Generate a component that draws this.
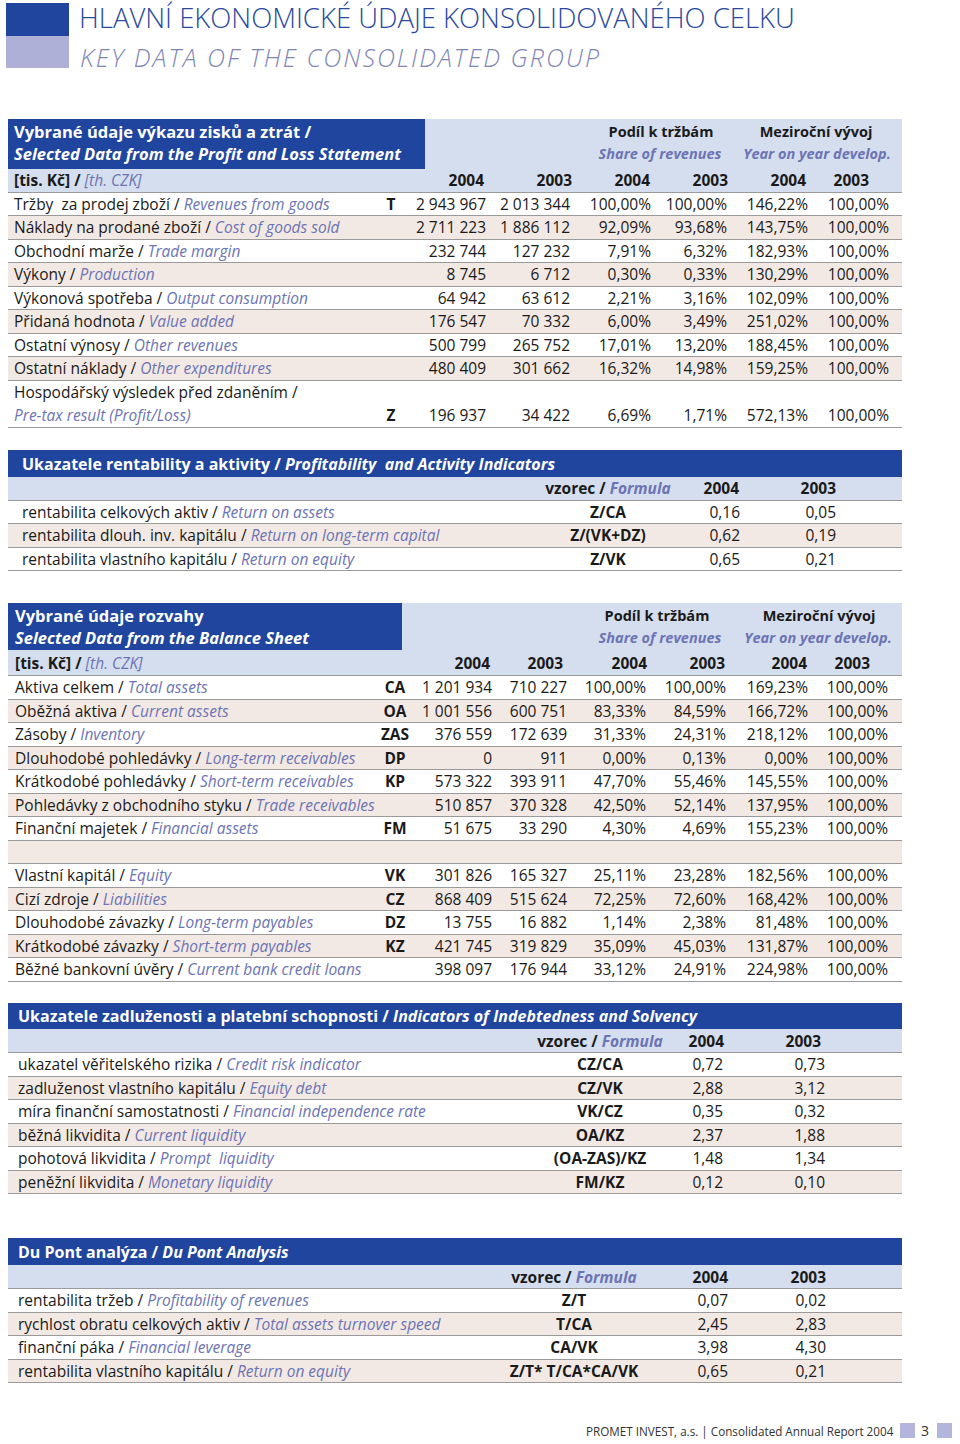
import React from 'react';

// page colours
const DARK = '#1f459e';
const LIGHT = '#d5deee';
const PINK = '#f3e9e4';
const LINE = '#9a9a9a';
const INK = '#1a1a1a';
const EN = '#6c74b4';
const FONT = '"Open Sans", sans-serif';

// --- Profit and loss ---
const plCz = ['Tržby  za prodej zboží', 'Náklady na prodané zboží', 'Obchodní marže', 'Výkony', 'Výkonová spotřeba', 'Přidaná hodnota', 'Ostatní výnosy', 'Ostatní náklady', 'Hospodářský výsledek před zdaněním'];
const plEn = ['Revenues from goods', 'Cost of goods sold', 'Trade margin', 'Production', 'Output consumption', 'Value added', 'Other revenues', 'Other expenditures', 'Pre-tax result (Profit/Loss)'];
const plCodes = ['T', '', '', '', '', '', '', '', 'Z'];
const pl2004 = [2943967, 2711223, 232744, 8745, 64942, 176547, 500799, 480409, 196937];
const pl2003 = [2013344, 1886112, 127232, 6712, 63612, 70332, 265752, 301662, 34422];
const plShare2004 = [100.0, 92.09, 7.91, 0.3, 2.21, 6.0, 17.01, 16.32, 6.69];
const plShare2003 = [100.0, 93.68, 6.32, 0.33, 3.16, 3.49, 13.2, 14.98, 1.71];
const plYoy2004 = [146.22, 143.75, 182.93, 130.29, 102.09, 251.02, 188.45, 159.25, 572.13];
const plYoy2003 = [100, 100, 100, 100, 100, 100, 100, 100, 100];

// --- Balance sheet ---
const bsCz = ['Aktiva celkem', 'Oběžná aktiva', 'Zásoby', 'Dlouhodobé pohledávky', 'Krátkodobé pohledávky', 'Pohledávky z obchodního styku', 'Finanční majetek', '', 'Vlastní kapitál', 'Cizí zdroje', 'Dlouhodobé závazky', 'Krátkodobé závazky', 'Běžné bankovní úvěry'];
const bsEn = ['Total assets', 'Current assets', 'Inventory', 'Long-term receivables', 'Short-term receivables', 'Trade receivables', 'Financial assets', '', 'Equity', 'Liabilities', 'Long-term payables', 'Short-term payables', 'Current bank credit loans'];
const bsCodes = ['CA', 'OA', 'ZAS', 'DP', 'KP', '', 'FM', '', 'VK', 'CZ', 'DZ', 'KZ', ''];
const bs2004 = [1201934, 1001556, 376559, 0, 573322, 510857, 51675, null, 301826, 868409, 13755, 421745, 398097];
const bs2003 = [710227, 600751, 172639, 911, 393911, 370328, 33290, null, 165327, 515624, 16882, 319829, 176944];
const bsShare2004 = [100.0, 83.33, 31.33, 0.0, 47.7, 42.5, 4.3, null, 25.11, 72.25, 1.14, 35.09, 33.12];
const bsShare2003 = [100.0, 84.59, 24.31, 0.13, 55.46, 52.14, 4.69, null, 23.28, 72.6, 2.38, 45.03, 24.91];
const bsYoy2004 = [169.23, 166.72, 218.12, 0.0, 145.55, 137.95, 155.23, null, 182.56, 168.42, 81.48, 131.87, 224.98];
const bsYoy2003 = [100, 100, 100, 100, 100, 100, 100, null, 100, 100, 100, 100, 100];

// --- Indicators ---
const profCz = ['rentabilita celkových aktiv', 'rentabilita dlouh. inv. kapitálu', 'rentabilita vlastního kapitálu'];
const profEn = ['Return on assets', 'Return on long-term capital', 'Return on equity'];
const profFormula = ['Z/CA', 'Z/(VK+DZ)', 'Z/VK'];
const prof2004 = [0.16, 0.62, 0.65];
const prof2003 = [0.05, 0.19, 0.21];

const debtCz = ['ukazatel věřitelského rizika', 'zadluženost vlastního kapitálu', 'míra finanční samostatnosti', 'běžná likvidita', 'pohotová likvidita', 'peněžní likvidita'];
const debtEn = ['Credit risk indicator', 'Equity debt', 'Financial independence rate', 'Current liquidity', 'Prompt  liquidity', 'Monetary liquidity'];
const debtFormula = ['CZ/CA', 'CZ/VK', 'VK/CZ', 'OA/KZ', '(OA-ZAS)/KZ', 'FM/KZ'];
const debt2004 = [0.72, 2.88, 0.35, 2.37, 1.48, 0.12];
const debt2003 = [0.73, 3.12, 0.32, 1.88, 1.34, 0.1];

const dpCz = ['rentabilita tržeb', 'rychlost obratu celkových aktiv', 'finanční páka', 'rentabilita vlastního kapitálu'];
const dpEn = ['Profitability of revenues', 'Total assets turnover speed', 'Financial leverage', 'Return on equity'];
const dpFormula = ['Z/T', 'T/CA', 'CA/VK', 'Z/T* T/CA*CA/VK'];
const dp2004 = [0.07, 2.45, 3.98, 0.65];
const dp2003 = [0.02, 2.83, 4.3, 0.21];

const years = ['2004', '2003', '2004', '2003', '2004', '2003'];

const fmtInt = (v: number | null) => (v == null ? '' : String(v).replace(/\B(?=(\d{3})+(?!\d))/g, ' '));
const fmtPct = (v: number | null) => (v == null ? '' : v.toFixed(2).replace('.', ',') + '%');
const fmtDec = (v: number) => v.toFixed(2).replace('.', ',');

const ROW = 23.5;
const PAGE_RIGHT = 902;

// absolutely placed text; x is a right edge, left edge or centre on the page
const at = (x: number, align: 'left' | 'right' | 'center', extra: React.CSSProperties = {}): React.CSSProperties => {
  const base: React.CSSProperties = { position: 'absolute', top: 0, bottom: 0, display: 'flex', alignItems: 'center', whiteSpace: 'pre' };
  if (align === 'left') return { ...base, left: x - 8, ...extra };
  if (align === 'right') return { ...base, right: PAGE_RIGHT - x, ...extra };
  return { ...base, left: x - 8 - 200, width: 400, justifyContent: 'center', ...extra };
};

const Band = ({ top, height, bg, line = true, left = 8, children }: any) => (
  <div
    style={{
      position: 'absolute', left, width: PAGE_RIGHT - left, top, height, background: bg,
      borderBottom: line ? `1.5px solid ${LINE}` : 'none', boxSizing: 'border-box',
    }}
  >
    {children}
  </div>
);

const Label = ({ x, cz, en }: { x: number; cz: string; en: string }) => (
  <span style={at(x, 'left')}>
    {cz}
    {en ? ' / ' : ''}
    <span style={{ color: EN, fontStyle: 'italic' }}>{en}</span>
  </span>
);

const TwoLineHeader = ({ top, height, darkWidth, x, cz, en, shareC, yoyC, shareC2, yoyC2, y1, y2 }: any) => (
  <>
    <div style={{ position: 'absolute', left: 8, top, width: darkWidth - 8, height, background: DARK, color: '#fff', fontWeight: 700, fontSize: 16.5 }}>
      <div style={{ position: 'absolute', left: x - 8, top: y1 - top - 12, lineHeight: '24px' }}>{cz}</div>
      <div style={{ position: 'absolute', left: x - 8, top: y2 - top - 12, lineHeight: '24px', fontStyle: 'italic' }}>{en}</div>
    </div>
    <div style={{ position: 'absolute', left: darkWidth, top, width: PAGE_RIGHT - darkWidth, height, background: LIGHT, fontWeight: 700, fontSize: 14.5 }}>
      {[
        ['Podíl k tržbám', shareC, y1, false],
        ['Share of revenues', shareC2, y2, true],
        ['Meziroční vývoj', yoyC, y1, false],
        ['Year on year develop.', yoyC2, y2, true],
      ].map(([t, c, y, it]: any, i) => (
        <div
          key={i}
          style={{
            position: 'absolute', left: c - darkWidth - 150, width: 300, textAlign: 'center', top: y - top - 11, lineHeight: '22px',
            color: it ? EN : INK, fontStyle: it ? 'italic' : 'normal',
          }}
        >
          {t}
        </div>
      ))}
    </div>
  </>
);

const UnitsRow = ({ top, height, x, headerRights }: any) => (
  <Band top={top} height={height} bg={LIGHT}>
    <span style={at(x, 'left', { fontWeight: 700 })}>
      [tis. Kč] / <span style={{ color: EN, fontStyle: 'italic', fontWeight: 400 }}>[th. CZK]</span>
    </span>
    {years.map((y, i) => (
      <span key={i} style={at(headerRights[i], 'right', { fontWeight: 700 })}>{y}</span>
    ))}
  </Band>
);

const FinTable = ({ rowsTop, x, codeC, valueRights, cz, en, codes, cols, twoLineLast }: any) => (
  <>
    {cz.map((c: string, i: number) => {
      const two = twoLineLast && i === cz.length - 1;
      const h = two ? ROW * 2 : ROW;
      const rowTop = rowsTop + i * ROW;
      const vals = cols.map((col: any) => col.fmt(col.data[i]));
      return (
        <Band key={i} top={rowTop} height={h} bg={i % 2 === 1 ? PINK : '#fff'}>
          {two ? (
            <>
              <div style={{ position: 'absolute', left: x - 8, top: 0, height: ROW, display: 'flex', alignItems: 'center' }}>{c} /</div>
              <div style={{ position: 'absolute', left: x - 8, top: ROW, height: ROW - 1.5, display: 'flex', alignItems: 'center', color: EN, fontStyle: 'italic' }}>{en[i]}</div>
            </>
          ) : (
            <Label x={x} cz={c} en={en[i]} />
          )}
          <div style={{ position: 'absolute', left: 0, right: 0, top: two ? ROW : 0, bottom: 0 }}>
            <span style={at(codeC, 'center', { fontWeight: 700 })}>{codes[i]}</span>
            {vals.map((v: string, j: number) => (
              <span key={j} style={at(valueRights[j], 'right')}>{v}</span>
            ))}
          </div>
        </Band>
      );
    })}
  </>
);

const IndicatorTable = ({ top, headH, subH, x, title, titleEn, formulaC, r2004, r2003, h2004, h2003, cz, en, formula, v2004, v2003 }: any) => (
  <>
    <div style={{ position: 'absolute', left: 8, top, width: PAGE_RIGHT - 8, height: headH, background: DARK, color: '#fff', fontWeight: 700, fontSize: 16 }}>
      <span style={{ position: 'absolute', left: x - 8, top: 0, bottom: 0, display: 'flex', alignItems: 'center', whiteSpace: 'pre' }}>
        {title} / <i>{titleEn}</i>
      </span>
    </div>
    <Band top={top + headH} height={subH} bg={LIGHT}>
      <span style={at(formulaC, 'center', { fontWeight: 700 })}>
        vzorec / <span style={{ color: EN, fontStyle: 'italic' }}>Formula</span>
      </span>
      <span style={at(h2004, 'right', { fontWeight: 700 })}>2004</span>
      <span style={at(h2003, 'right', { fontWeight: 700 })}>2003</span>
    </Band>
    {cz.map((c: string, i: number) => (
      <Band key={i} top={top + headH + subH + i * ROW} height={ROW} bg={i % 2 === 1 ? PINK : '#fff'}>
        <Label x={x} cz={c} en={en[i]} />
        <span style={at(formulaC, 'center', { fontWeight: 700 })}>{formula[i]}</span>
        <span style={at(r2004, 'right')}>{fmtDec(v2004[i])}</span>
        <span style={at(r2003, 'right')}>{fmtDec(v2003[i])}</span>
      </Band>
    ))}
  </>
);

export default function App() {
  const plCols = [
    { data: pl2004, fmt: fmtInt },
    { data: pl2003, fmt: fmtInt },
    { data: plShare2004, fmt: fmtPct },
    { data: plShare2003, fmt: fmtPct },
    { data: plYoy2004, fmt: fmtPct },
    { data: plYoy2003, fmt: fmtPct },
  ];
  const bsCols = [
    { data: bs2004, fmt: fmtInt },
    { data: bs2003, fmt: fmtInt },
    { data: bsShare2004, fmt: fmtPct },
    { data: bsShare2003, fmt: fmtPct },
    { data: bsYoy2004, fmt: fmtPct },
    { data: bsYoy2003, fmt: fmtPct },
  ];

  return (
    <div style={{ position: 'absolute', left: 0, top: 0, width: 960, height: 1444, background: '#fff', fontFamily: FONT, fontSize: 15.5, color: INK, overflow: 'hidden' }}>
      {/* title block */}
      <div style={{ position: 'absolute', left: 6, top: 3, width: 63, height: 33, background: DARK }} />
      <div style={{ position: 'absolute', left: 6, top: 36, width: 63, height: 32, background: '#aeb0d8' }} />
      <div style={{ position: 'absolute', left: 79, top: 0, height: 36, lineHeight: '36px', fontSize: 27.5, fontWeight: 300, color: '#2a4a9e', whiteSpace: 'nowrap' }}>
        HLAVNÍ EKONOMICKÉ ÚDAJE KONSOLIDOVANÉHO CELKU
      </div>
      <div style={{ position: 'absolute', left: 80, top: 40, height: 34, lineHeight: '34px', fontSize: 25, fontWeight: 300, fontStyle: 'italic', letterSpacing: 2, color: '#7f86b6', whiteSpace: 'nowrap' }}>
        KEY DATA OF THE CONSOLIDATED GROUP
      </div>

      {/* profit and loss */}
      <TwoLineHeader
        top={119} height={50} darkWidth={425} x={14}
        cz="Vybrané údaje výkazu zisků a ztrát /" en="Selected Data from the Profit and Loss Statement"
        shareC={661} shareC2={660} yoyC={816} yoyC2={817} y1={132} y2={154}
      />
      <UnitsRow top={169} height={23.5} x={14} headerRights={[484, 572, 650, 728, 806, 869]} />
      <FinTable
        rowsTop={192.5} x={14} codeC={391} valueRights={[486, 570, 651, 727, 808, 889]}
        cz={plCz} en={plEn} codes={plCodes} cols={plCols} twoLineLast
      />

      {/* profitability */}
      <IndicatorTable
        top={450} headH={27} subH={23.5} x={22}
        title="Ukazatele rentability a aktivity" titleEn="Profitability  and Activity Indicators"
        formulaC={608} r2004={740} r2003={836} h2004={739} h2003={836}
        cz={profCz} en={profEn} formula={profFormula} v2004={prof2004} v2003={prof2003}
      />

      {/* balance sheet */}
      <TwoLineHeader
        top={603} height={47} darkWidth={402} x={15}
        cz="Vybrané údaje rozvahy" en="Selected Data from the Balance Sheet"
        shareC={657} shareC2={660} yoyC={819} yoyC2={818} y1={616} y2={638}
      />
      <UnitsRow top={650} height={26} x={15} headerRights={[490, 563, 647, 725, 807, 870]} />
      <FinTable
        rowsTop={676} x={15} codeC={395} valueRights={[492, 567, 646, 726, 808, 888]}
        cz={bsCz} en={bsEn} codes={bsCodes} cols={bsCols}
      />

      {/* indebtedness */}
      <IndicatorTable
        top={1003} headH={26} subH={24} x={18}
        title="Ukazatele zadluženosti a platební schopnosti" titleEn="Indicators of Indebtedness and Solvency"
        formulaC={600} r2004={723} r2003={825} h2004={724} h2003={821}
        cz={debtCz} en={debtEn} formula={debtFormula} v2004={debt2004} v2003={debt2003}
      />

      {/* du pont */}
      <IndicatorTable
        top={1238} headH={27} subH={24} x={18}
        title="Du Pont analýza" titleEn="Du Pont Analysis"
        formulaC={574} r2004={728} r2003={826} h2004={728} h2003={826}
        cz={dpCz} en={dpEn} formula={dpFormula} v2004={dp2004} v2003={dp2003}
      />

      {/* footer */}
      <div style={{ position: 'absolute', right: 960 - 893, top: 1421, lineHeight: '20px', fontSize: 13.5, color: '#333', whiteSpace: 'nowrap', transform: 'scaleX(0.865)', transformOrigin: 'right center' }}>
        PROMET INVEST, a.s. | Consolidated Annual Report 2004
      </div>
      <div style={{ position: 'absolute', left: 900, top: 1423, width: 15, height: 15, background: '#b3b5dc' }} />
      <div style={{ position: 'absolute', left: 921, top: 1421, lineHeight: '20px', fontSize: 14, color: '#333' }}>3</div>
      <div style={{ position: 'absolute', left: 937, top: 1423, width: 15, height: 15, background: '#b3b5dc' }} />
    </div>
  );
}
